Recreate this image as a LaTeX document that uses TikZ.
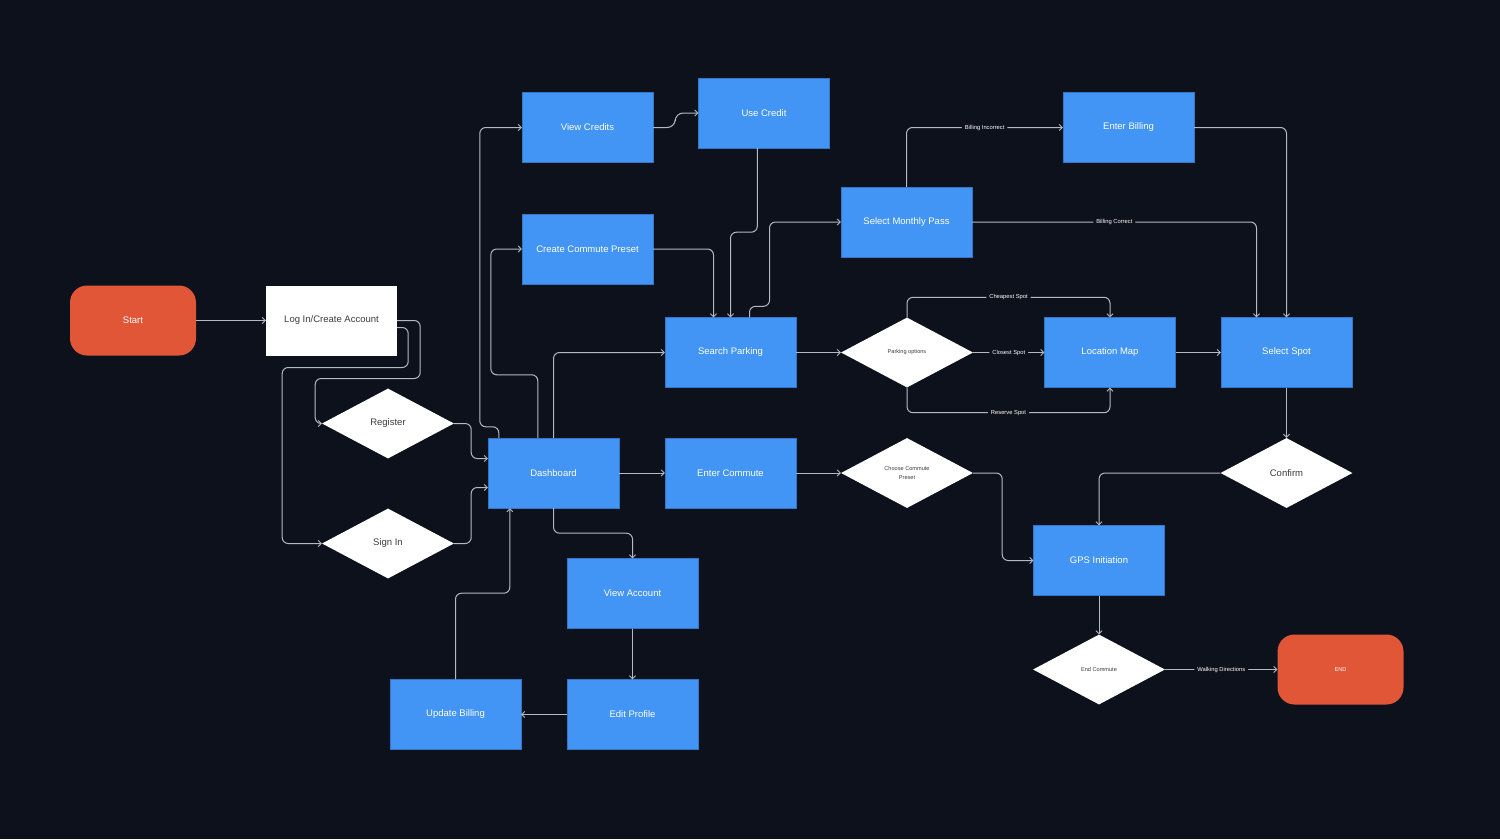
\documentclass[tikz,border=0pt]{standalone}
\usepackage{fontspec}
\setmainfont{Liberation Sans}
\usetikzlibrary{arrows.meta,shapes.geometric,calc}
\definecolor{bg}{HTML}{0C111B}
\definecolor{boxblue}{HTML}{4294F5}
\definecolor{termorange}{HTML}{E05636}
\definecolor{linegray}{HTML}{B4B9C2}
\definecolor{darktext}{HTML}{3C3C3C}
\tikzset{
  bluebox/.style={rectangle,fill=boxblue,draw=boxblue!80!black,line width=0.4pt,minimum width=131,minimum height=70,inner sep=0pt,text=white,font=\fontsize{9.5}{11}\selectfont},
  whitebox/.style={rectangle,fill=white,minimum width=131,minimum height=70,inner sep=0pt,text=darktext,font=\fontsize{9.5}{11}\selectfont},
  term/.style={rectangle,rounded corners=17,fill=termorange,minimum width=126,minimum height=70,inner sep=0pt,text=white},
  dec/.style={diamond,aspect=1.9,fill=white,minimum width=132,minimum height=70,inner sep=0pt,text=darktext,align=center},
  bigtxt/.style={font=\fontsize{9.5}{11}\selectfont},
  smalltxt/.style={font=\fontsize{5.6}{8}\selectfont},
  conn/.style={draw=linegray,line width=1pt,rounded corners=6,-{Straight Barb[length=3pt,width=6pt,line width=0.9pt]}},
  lbl/.style={fill=bg,text=white,inner sep=3pt,font=\fontsize{5.8}{7}\selectfont}
}
\begin{document}
\begin{tikzpicture}[x=1pt,y=-1pt]
\fill[bg] (0,0) rectangle (1500,839);
\useasboundingbox (0,0) rectangle (1500,839);
% nodes
\node[term,bigtxt] (start) at (133,320.5) {Start};
\node[whitebox] (login) at (331.5,320.5) {Log In/Create Account};
\node[dec,bigtxt] (reg) at (388,423.5) {Register};
\node[dec,bigtxt] (si) at (388,543.5) {Sign In};
\node[bluebox] (db) at (553.5,473) {Dashboard};
\node[bluebox] (vc) at (587.5,127.5) {View Credits};
\node[bluebox] (uc) at (764,113) {Use Credit};
\node[bluebox] (ccp) at (587.5,249) {Create Commute Preset};
\node[bluebox] (sp) at (730.5,352.5) {Search Parking};
\node[bluebox] (ec) at (730.5,473) {Enter Commute};
\node[bluebox] (smp) at (906.5,222) {Select Monthly Pass};
\node[bluebox] (eb) at (1128.5,127.5) {Enter Billing};
\node[dec,smalltxt] (po) at (907,352.5) {Parking options};
\node[bluebox] (lm) at (1110,352.5) {Location Map};
\node[bluebox] (ss) at (1286.5,352.5) {Select Spot};
\node[dec,smalltxt] (cp) at (907,473) {Choose Commute\\[1pt]Preset};
\node[dec,bigtxt] (conf) at (1286.5,473) {Confirm};
\node[bluebox] (gps) at (1099,560.5) {GPS Initiation};
\node[dec,smalltxt] (endc) at (1099,669.5) {End Commute};
\node[term,smalltxt] (end) at (1340.5,669.5) {END};
\node[bluebox] (va) at (632.5,593.5) {View Account};
\node[bluebox] (ep) at (632.5,714.5) {Edit Profile};
\node[bluebox] (ub) at (455.5,714.5) {Update Billing};
% connectors
\draw[conn] (start) -- (login);
\draw[conn] (login.east) -- ++(23,0) -- ++(0,58) -- ++(-105,0) |- (reg.west);
\draw[conn] ($(login.east)+(0,7)$) -- ++(11,0) -- ++(0,40) -- ++(-126,0) |- (si.west);
\draw[conn] (reg.east) -- ++(17,0) |- ($(db.west)+(0,-14.5)$);
\draw[conn] (si.east) -- ++(17,0) |- ($(db.west)+(0,14.5)$);
\draw[conn] ($(db.north west)+(11,0)$) -- ++(0,-11) -- ++(-19,0) |- (vc.west);
\draw[conn] ($(db.north west)+(50,0)$) -- ++(0,-63) -- ++(-47,0) |- (ccp.west);
\draw[conn] (db.north) |- (sp.west);
\draw[conn] (db) -- (ec);
\draw[conn] (db.south) -- ++(0,25) -| (va.north);
\draw[conn] (va) -- (ep);
\draw[conn] (ep) -- (ub);
\draw[conn] (ub.north) |- ($(db.south west)+(22,85)$) -- ($(db.south west)+(22,0)$);
\draw[conn,rounded corners=8] (vc.east) -- ++(22,0) |- (uc.west);
\draw[conn] ($(uc.south west)+(59,0)$) -- ++(0,84) -| (sp.north);
\draw[conn] (ccp.east) -| ($(sp.north)+(-17,0)$);
\draw[conn] ($(sp.north)+(19,0)$) -- ++(0,-11) -- ++(20,0) |- (smp.west);
\draw[conn] (sp) -- (po);
\draw[conn] (po.north) |- node[lbl,pos=0.75]{Cheapest Spot} ($(lm.north)+(0,-20)$) -- (lm.north);
\draw[conn] (po.east) -- node[lbl]{Closest Spot} (lm.west);
\draw[conn] (po.south) |- node[lbl,pos=0.75]{Reserve Spot} ($(lm.south)+(0,25)$) -- (lm.south);
\draw[conn] (lm) -- (ss);
\draw[conn] (smp.north) |- node[lbl,pos=0.75]{Billing Incorrect} (eb.west);
\draw[conn] (smp.east) -| node[lbl,pos=0.25]{Billing Correct} ($(ss.north)+(-30,0)$);
\draw[conn] (eb.east) -| (ss.north);
\draw[conn] (ss) -- (conf);
\draw[conn] (conf.west) -| (gps.north);
\draw[conn] (ec) -- (cp);
\draw[conn] (cp.east) -- ++(29,0) |- (gps.west);
\draw[conn] (gps) -- (endc);
\draw[conn] (endc.east) -- node[lbl]{Walking Directions} (end.west);
\end{tikzpicture}
\end{document}
